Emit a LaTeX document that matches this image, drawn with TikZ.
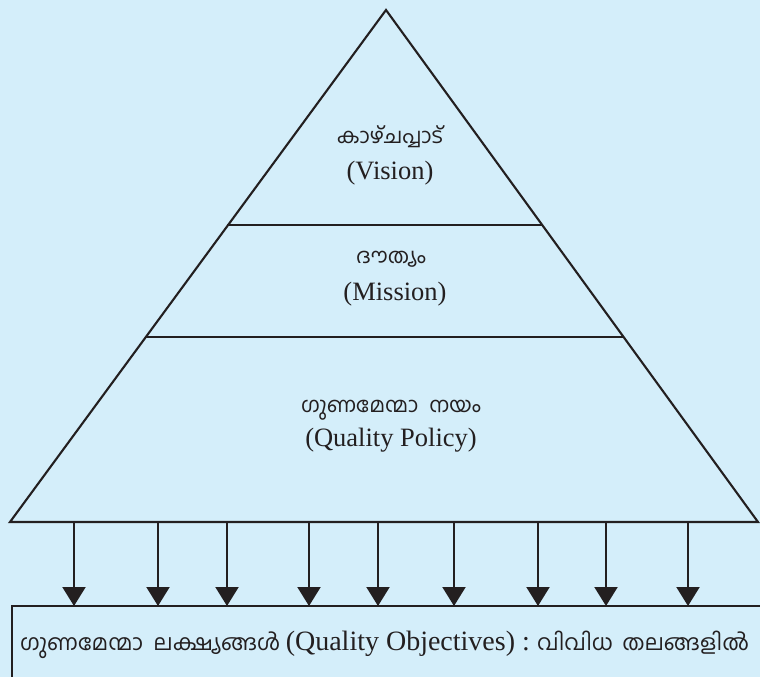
\documentclass[tikz,border=0pt]{standalone}
\usepackage{fontspec}
\setmainfont{Liberation Serif}
\newfontfamily\mlfont[Script=Malayalam]{Hind Kochi}
\usetikzlibrary{arrows.meta}

\definecolor{paleblue}{RGB}{212,238,250}
\definecolor{inkblack}{RGB}{35,31,32}

\begin{document}
\begin{tikzpicture}[x=1pt, y=-1pt,
    outline/.style={draw=inkblack, line width=2.1pt, line join=miter},
    downarrow/.style={draw=inkblack, line width=2.1pt, -{Triangle[width=23pt,length=19pt]}},
    mltext/.style={text=inkblack, font=\mlfont\fontsize{21}{24}\selectfont, inner sep=0pt},
    entext/.style={text=inkblack, font=\fontsize{26.5}{30}\selectfont, inner sep=0pt}]

  % page and background
  \useasboundingbox (0,0) rectangle (760,677);
  \fill[paleblue] (0,0) rectangle (760,677);
  \clip (0,0) rectangle (760,677);

  % corners of the pyramid
  \coordinate (Apex) at (386,10);
  \coordinate (BaseLeft) at (10,522);
  \coordinate (BaseRight) at (758,522);

  % the two dividing lines
  \coordinate (VisionLeft) at (227,225);
  \coordinate (VisionRight) at (543,225);
  \coordinate (MissionLeft) at (146,337);
  \coordinate (MissionRight) at (624,337);

  \draw[outline] (Apex) -- (BaseRight) -- (BaseLeft) -- cycle;
  \draw[outline] (VisionLeft) -- (VisionRight);
  \draw[outline] (MissionLeft) -- (MissionRight);

  % level labels
  \node[mltext] (vision ml) at (390,137) {കാഴ്ചപ്പാട്};
  \node[entext] (vision en) at (390,173) {(Vision)};
  \node[mltext] (mission ml) at (391,259) {ദൗത്യം};
  \node[entext] (mission en) at (395,294) {(Mission)};
  \node[mltext] (policy ml) at (391,410) {ഗുണമേന്മാ\hspace{6pt} നയം};
  \node[entext] (policy en) at (391,440) {(Quality Policy)};

  % objectives box, running off the page
  \draw[outline] (12,800) -- (12,606) -- (800,606);
  \node[mltext, anchor=west, font=\mlfont\fontsize{22}{26}\selectfont] (objectives) at (20,645)
    {ഗുണമേന്മാ\hspace{5pt} ലക്ഷ്യങ്ങൾ
     {\fontsize{28}{32}\selectfont\rmfamily (Quality Objectives) :}
     വിവിധ\hspace{4pt} തലങ്ങളിൽ};

  % arrows from the base down to the box
  \foreach \x [count=\i] in {74,158,227,309,378,454,538,606,688} {
    \coordinate (from\i) at (\x,522);
    \coordinate (to\i) at (\x,606);
    \draw[downarrow] (from\i) -- (to\i);
  }

\end{tikzpicture}
\end{document}
